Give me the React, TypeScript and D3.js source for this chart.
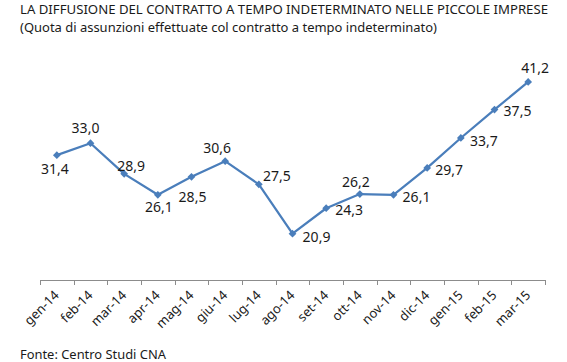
import React from 'react';
import * as d3 from 'd3';

const months = ['gen-14', 'feb-14', 'mar-14', 'apr-14', 'mag-14', 'giu-14', 'lug-14', 'ago-14', 'set-14', 'ott-14', 'nov-14', 'dic-14', 'gen-15', 'feb-15', 'mar-15'];
const quota = [31.4, 33.0, 28.9, 26.1, 28.5, 30.6, 27.5, 20.9, 24.3, 26.2, 26.1, 29.7, 33.7, 37.5, 41.2];

// label placement relative to the point (dx, dy)
const labelOffsets = [
  [-2, 14], [-5, -15], [7, -8], [1, 12], [1, 20], [-8, -13], [18, -8], [24, 3],
  [23, 2], [-4, -12], [23, 2], [22, 2], [23, 3], [23, 2], [7, -14],
];

const W = 567;
const H = 362;
const font = '"Noto Sans", "Open Sans", sans-serif';
const blue = '#4a7ebb';
const ink = '#1a1a1a';

export default function App() {
  const x = d3.scaleBand<string>().domain(months).range([40, 545]);
  const y = d3.scaleLinear().domain([14.7, 44]).range([280, 61]);
  const cx = (m: string) => x(m)! + x.bandwidth() / 2;

  const line = d3.line<number>()
    .x((_, i) => cx(months[i]))
    .y(d => y(d));

  const marker = d3.symbol().type(d3.symbolSquare).size(30)()!;
  const fmt = (v: number) => v.toFixed(1).replace('.', ',');
  const ticks = [...months.map(m => x(m)!), x.range()[1]];

  return (
    <svg width={W} height={H} style={{ position: 'absolute', left: 0, top: 0, background: '#fff' }}>
      <text x={20} y={14} fontFamily={font} fontSize={13} fill={ink} textLength={528} lengthAdjust="spacingAndGlyphs">
        LA DIFFUSIONE DEL CONTRATTO A TEMPO INDETERMINATO NELLE PICCOLE IMPRESE
      </text>
      <text x={20} y={31.5} fontFamily={font} fontSize={13} fill={ink} textLength={417} lengthAdjust="spacingAndGlyphs">
        (Quota di assunzioni effettuate col contratto a tempo indeterminato)
      </text>

      <line x1={40} x2={545} y1={280.5} y2={280.5} stroke="#8c8c8c" strokeWidth={1} />
      {ticks.map((t, i) => (
        <line key={i} x1={Math.round(t) + 0.5} x2={Math.round(t) + 0.5} y1={280} y2={285} stroke="#8c8c8c" strokeWidth={1} />
      ))}

      {months.map(m => (
        <text key={m} transform={`translate(${cx(m) + 3},${296}) rotate(-45)`} textAnchor="end"
          fontFamily={font} fontSize={13} fill={ink}>{m}</text>
      ))}

      <path d={line(quota)!} fill="none" stroke={blue} strokeWidth={2.25} strokeLinejoin="round" />
      {quota.map((v, i) => (
        <path key={i} d={marker} transform={`translate(${cx(months[i])},${y(v)}) rotate(45)`} fill={blue} />
      ))}

      {quota.map((v, i) => {
        const [dx, dy] = labelOffsets[i];
        return (
          <text key={i} x={cx(months[i]) + dx} y={y(v) + dy} dy="0.35em" textAnchor="middle"
            fontFamily={font} fontSize={14} fill={ink}>{fmt(v)}</text>
        );
      })}

      <text x={20} y={358.5} fontFamily={font} fontSize={13} fill={ink} textLength={146} lengthAdjust="spacingAndGlyphs">
        Fonte: Centro Studi CNA
      </text>
    </svg>
  );
}
